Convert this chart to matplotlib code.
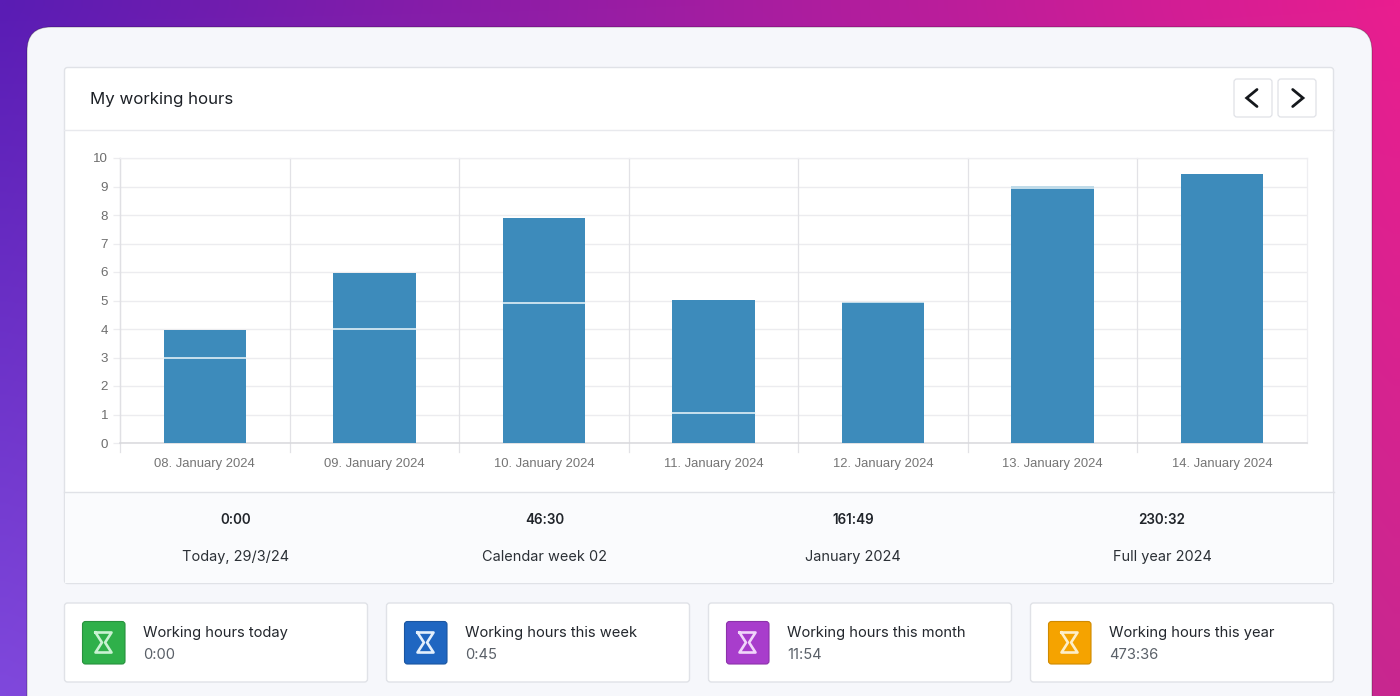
import numpy as np
import matplotlib
matplotlib.use("Agg")
import matplotlib.pyplot as plt
from matplotlib.patches import FancyBboxPatch, Rectangle
from matplotlib.colors import to_rgb

days = ["08. January 2024", "09. January 2024", "10. January 2024", "11. January 2024",
        "12. January 2024", "13. January 2024", "14. January 2024"]
lower_hours = [3.0, 4.0, 4.92, 1.07, 4.9, 8.92, 9.45]
upper_hours = [0.97, 1.97, 2.98, 3.95, 0.03, 0.1, 0.0]
y_ticks = [0, 1, 2, 3, 4, 5, 6, 7, 8, 9, 10]

summary_values = ["0:00", "46:30", "161:49", "230:32"]
summary_labels = ["Today, 29/3/24", "Calendar week 02", "January 2024", "Full year 2024"]
card_titles = ["Working hours today", "Working hours this week",
               "Working hours this month", "Working hours this year"]
card_values = ["0:00", "0:45", "11:54", "473:36"]
card_colors = ["#2fb04a", "#1f66c1", "#a83dcc", "#f5a300"]
card_edges = ["#27913d", "#1a55a0", "#8c32aa", "#cf8a00"]
card_glyphs = ["#c9f2d2", "#e3effc", "#f0d6fa", "#fdeec8"]

UI = ["Inter", "DejaVu Sans"]
TICK = ["Liberation Sans", "DejaVu Sans"]
W, H = 1400, 696
fig = plt.figure(figsize=(W / 100, H / 100), dpi=100)

# canvas in pixel coordinates
bg = fig.add_axes([0, 0, 1, 1])
bg.set_xlim(0, W); bg.set_ylim(H, 0); bg.axis("off")

# corner-blended backdrop
tl, tr = np.array(to_rgb("#5a1cb4")), np.array(to_rgb("#e91e8f"))
bl, br = np.array(to_rgb("#7f48dc")), np.array(to_rgb("#c8278f"))
gy, gx = np.mgrid[0:1:60j, 0:1:120j]
grad = ((1 - gx)[..., None] * (1 - gy)[..., None] * tl + gx[..., None] * (1 - gy)[..., None] * tr
        + (1 - gx)[..., None] * gy[..., None] * bl + gx[..., None] * gy[..., None] * br)
bg.imshow(grad, extent=(0, W, H, 0), aspect="auto", interpolation="bilinear", zorder=0)
bg.set_xlim(0, W); bg.set_ylim(H, 0)


def box(x0, y0, x1, y1, r, fc, ec="none", lw=0.75, z=1):
    p = FancyBboxPatch((x0 + r, y0 + r), x1 - x0 - 2 * r, y1 - y0 - 2 * r,
                       boxstyle=f"round,pad={r},rounding_size={r}",
                       fc=fc, ec=ec, lw=lw, zorder=z, mutation_aspect=1)
    bg.add_patch(p)


BORDER = "#e0e2e7"
# window panel
box(27, 27, 1372, 720, 24, "#f6f7fb", ec=(0, 0, 0, 0.25), lw=0.8, z=1)
# main card
box(64.5, 67.5, 1333.5, 583.5, 3, "#ffffff", ec=BORDER, lw=1.0, z=2)
bg.add_patch(Rectangle((65, 492), 1268, 91, fc="#fafbfd", ec="none", zorder=2.1))
bg.plot([64, 1334], [129.5, 129.5], color="#e8e9ed", lw=1.0, zorder=3)
bg.plot([64, 1334], [491.5, 491.5], color=BORDER, lw=1.0, zorder=3)
bg.text(90.5, 99.5, "My working hours", family=UI, fontsize=12.15, color="#1d2127",
        va="center", ha="left", zorder=4)

# arrow buttons
for x0, pts in ((1234, [(1257, 89.5), (1246.7, 98), (1257, 106.5)]),
                (1278, [(1292.7, 89.5), (1303, 98), (1292.7, 106.5)])):
    box(x0, 79, x0 + 38, 117, 3, "#ffffff", ec=BORDER, lw=0.9, z=3)
    xs, ys = zip(*pts)
    bg.plot(xs, ys, color="#15181c", lw=2.0, zorder=4, solid_capstyle="round",
            solid_joinstyle="miter")

# summary row
for cx, val, lab in zip([236, 545, 853, 1162], summary_values, summary_labels):
    bg.text(cx, 520, val, family=UI, fontsize=9.7, fontweight="semibold", color="#20242a",
            ha="center", va="center", zorder=4)
    bg.text(cx, 557, lab, family=UI, fontsize=10.45, color="#2b3036",
            ha="center", va="center", zorder=4)

# bottom cards
for x0, title, val, col, edge, gl in zip([64, 386, 708, 1030], card_titles, card_values,
                                         card_colors, card_edges, card_glyphs):
    box(x0 + 0.5, 603, x0 + 303.5, 682, 3, "#ffffff", ec=BORDER, lw=1.0, z=2)
    box(x0 + 18.5, 621.5, x0 + 61, 664, 3, col, ec=edge, lw=0.8, z=3)
    cx, cy = x0 + 39.5, 642.5
    dx = [-8, 8, 1.6, 8, -8, -1.6, -8]
    dy = [-10, -10, 0, 10, 10, 0, -10]
    bg.plot([cx + d for d in dx], [cy + d for d in dy], color=gl, lw=1.9, zorder=4,
            solid_joinstyle="round")
    bg.text(x0 + 79, 633, title, family=UI, fontsize=10.6, color="#23272d",
            ha="left", va="center", zorder=4)
    bg.text(x0 + 79, 655, val, family=UI, fontsize=10.6, color="#5a6068",
            ha="left", va="center", zorder=4)

# chart
ax = fig.add_axes([120 / W, 1 - 443 / H, (1307 - 120) / W, (443 - 158) / H], zorder=5)
ax.patch.set_alpha(0)
x = np.arange(len(days))
ax.bar(x, lower_hours, width=0.486, color="#3d8bbb", linewidth=0, zorder=3)
ax.bar(x, upper_hours, width=0.486, bottom=lower_hours, color="#3d8bbb", linewidth=0, zorder=3)
# pale separators between the two stacked series
sep = [(i, b) for i, (b, u) in enumerate(zip(lower_hours, upper_hours)) if u > 0.2]
for i, b in sep:
    ax.plot([i - 0.243, i + 0.243], [b, b], color="#eef8fc", lw=1.1, zorder=4)
cap_i = [i for i, u in enumerate(upper_hours) if 0 < u <= 0.2]
for i in cap_i:
    ax.bar(i, upper_hours[i], width=0.486, bottom=lower_hours[i], color="#c0dbe9",
           linewidth=0, zorder=4)

ax.set_xlim(-0.5, len(days) - 0.5)
ax.set_ylim(0, 10)
ax.set_yticks(y_ticks)
ax.set_xticks(x)
ax.set_xticklabels(days, family=TICK, fontsize=9.35, color="#757575")
for t in ax.get_yticklabels():
    t.set_family(TICK); t.set_fontsize(9.6); t.set_color("#6e6e6e")
ax.tick_params(axis="x", length=0, pad=10.5)
ax.tick_params(axis="y", length=5, width=0.9, color="#ececef", pad=3.6)
ax.grid(axis="y", color="#ececef", lw=1.0, zorder=0)
ax.set_axisbelow(True)
for s in ("top", "right"):
    ax.spines[s].set_color("#eeeef1"); ax.spines[s].set_linewidth(0.9)
ax.spines["left"].set_color("#e0e0e4"); ax.spines["left"].set_linewidth(0.9)
ax.spines["bottom"].set_color("#d8d8dc"); ax.spines["bottom"].set_linewidth(1.1)
# category dividers, running below the axis line
edges = np.arange(len(days) + 1) - 0.5
trans = ax.get_xaxis_transform()
for k, e in enumerate(edges[:-1]):
    ax.plot([e, e], [-9 / 285, 1], transform=trans, color="#e2e2e6", lw=0.9,
            clip_on=False, zorder=1)

fig.savefig("out.png", dpi=100)
